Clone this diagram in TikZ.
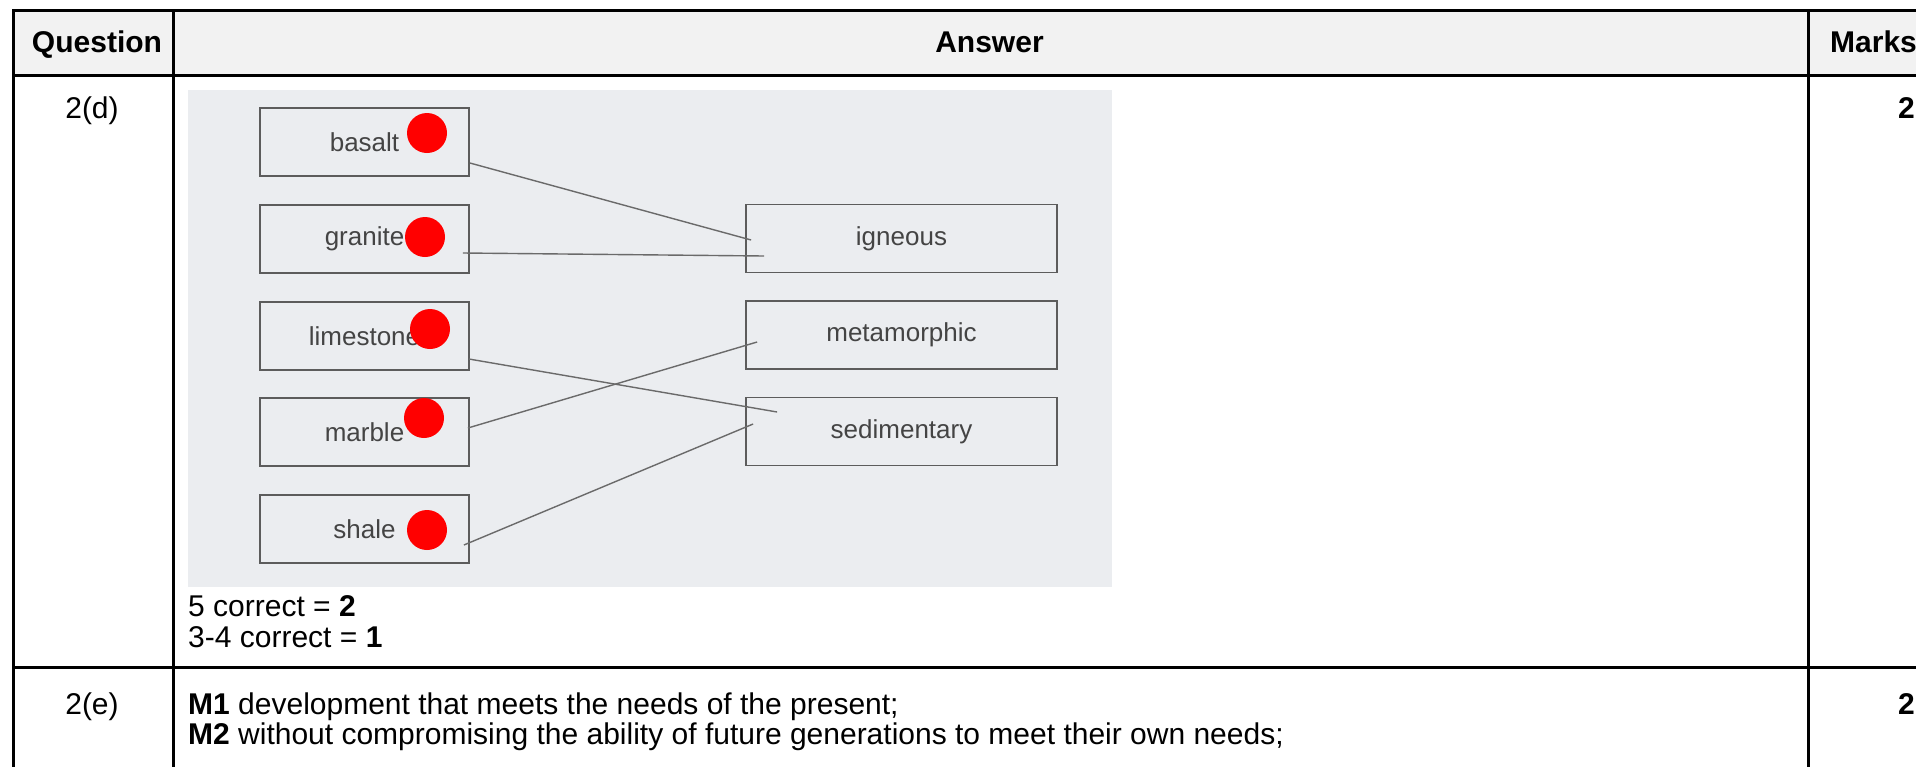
\documentclass[tikz,border=0pt]{standalone}
\usepackage{fontspec}
\setmainfont{Liberation Sans}
\usetikzlibrary{positioning}
\definecolor{hdrgrey}{HTML}{F2F2F2}
\definecolor{scangrey}{RGB}{235,237,240}
\definecolor{inkgrey}{HTML}{444444}
\definecolor{edgegrey}{HTML}{5C5C5C}
\definecolor{wiregrey}{HTML}{6A6A6A}
\definecolor{pickred}{HTML}{FF0000}
\tikzset{
  tabline/.style ={line width=3pt, black},
  hdr/.style     ={font=\fontsize{30}{36}\selectfont\bfseries, inner sep=0pt},
  celltxt/.style ={font=\fontsize{30}{36}\selectfont, inner sep=0pt},
  rock/.style    ={draw=edgegrey, line width=1.8pt, minimum width=209pt,
                   minimum height=68pt, inner sep=0pt, text=inkgrey,
                   font=\fontsize{26}{31}\selectfont},
  kind/.style    ={rock, minimum width=311pt},
  pick/.style    ={circle, fill=pickred, minimum size=40pt, inner sep=0pt},
  wire/.style    ={line width=1.4pt, wiregrey},
}

\begin{document}
\begin{tikzpicture}[x=1pt, y=-1pt]
  \useasboundingbox (0,0) rectangle (1916,766);
  \clip (0,0) rectangle (1916,766);
  % ---- table frame and header
  \fill[hdrgrey] (13,10) rectangle (1934,75.5);
  \draw[tabline] (13,10) rectangle (1934,800);
  \draw[tabline] (13,75.5) -- (1934,75.5);
  \draw[tabline] (13,667) -- (1934,667);
  \draw[tabline] (173,10) -- (173,800);
  \draw[tabline] (1808,10) -- (1808,800);
  \node[hdr, anchor=base]      (qh) at (97,52)    {Question};
  \node[hdr, anchor=base]      (ah) at (989.5,52) {Answer};
  \node[hdr, anchor=base west] (mh) at (1830,52)  {Marks};
  % ---- row 2(d): the scanned matching task
  \node[celltxt, anchor=base] (qd) at (92,118) {2(d)};
  \node[hdr, anchor=base east] (md) at (1915,118) {2};
  \fill[scangrey] (188,90) rectangle (1112,587);
  \node[rock] (bas) at (364.5,142) {basalt};
  \node[rock] (gra) at (364.5,239) {granite};
  \node[rock] (lim) at (364.5,336) {limestone};
  \node[rock] (mar) at (364.5,432) {marble};
  \node[rock] (sha) at (364.5,529) {shale};
  \node[kind] (ign) at (901.5,238.5) {igneous};
  \node[kind] (met) at (901.5,335)   {metamorphic};
  \node[kind] (sed) at (901.5,431.5) {sedimentary};
  \draw[wire] ([yshift=-21pt]bas.east) -- ([xshift=6pt,yshift=-1.5pt]ign.west);
  \draw[wire] ([xshift=-7pt,yshift=-14pt]gra.east) -- ([xshift=19pt,yshift=-17.5pt]ign.west);
  \draw[wire] ([xshift=-1pt,yshift=-23pt]lim.east) -- ([xshift=32pt,yshift=19.5pt]sed.west);
  \draw[wire] ([xshift=-2pt,yshift=4pt]mar.east) -- ([xshift=12pt,yshift=-7pt]met.west);
  \draw[wire] ([xshift=-6pt,yshift=-16pt]sha.east) -- ([xshift=8pt,yshift=7.5pt]sed.west);
  \node[pick] (pbas) at (427,133) {};
  \node[pick] (pgra) at (425,237) {};
  \node[pick] (plim) at (430,329) {};
  \node[pick] (pmar) at (424,418) {};
  \node[pick] (psha) at (427,530) {};
  \node[celltxt, anchor=base west] (r5) at (188,616) {5 correct = \textbf{2}};
  \node[celltxt, anchor=base west] (r34) at (188,647) {3-4 correct = \textbf{1}};
  % ---- row 2(e)
  \node[celltxt, anchor=base] (qe) at (92,714) {2(e)};
  \node[hdr, anchor=base east] (me) at (1915,714) {2};
  \node[celltxt, anchor=base west] (m1) at (188,714)
    {\textbf{M1} development that meets the needs of the present;};
  \node[celltxt, anchor=base west] (m2) at (188,744)
    {\textbf{M2} without compromising the ability of future generations to meet their own needs;};
\end{tikzpicture}
\end{document}
